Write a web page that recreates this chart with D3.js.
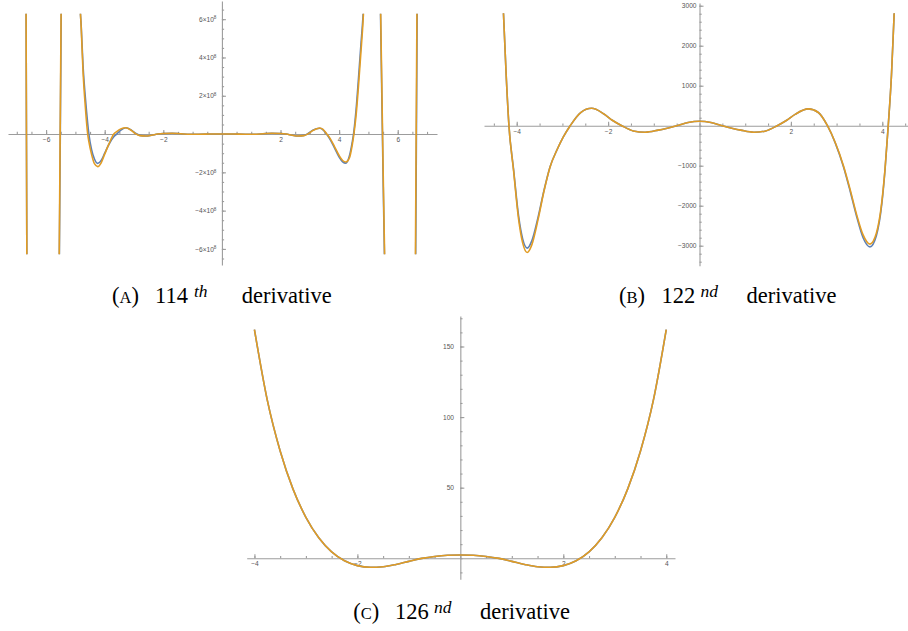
<html>
<head>
<meta charset="utf-8">
<script src="https://cdnjs.cloudflare.com/ajax/libs/d3/7.8.5/d3.min.js"></script>
<style>
    body { margin: 0; background: #fff; }
    svg { display: block; }
    .axis path, .axis line { stroke: #9c9c9c; stroke-width: 1.1px; }
    .axis text { fill: #555; font-family: 'Liberation Sans', Arial, sans-serif; font-size: 6.6px; }
    .cap { font-family: 'Liberation Serif', 'Times New Roman', serif; fill: #000; }
</style>
</head>
<body>
<script>
    // (A) 114th derivative, values in units of 10^8
    var aX = [-7.3, -6.9, -6.69, -6.65, -6.3, -5.9, -5.56, -5.47, -5.2, -4.9,
              -4.85, -4.8, -4.74, -4.66, -4.58, -4.54, -4.45, -4.35, -4.24, -4.12,
              -4.0, -3.85, -3.69, -3.59, -3.45, -3.28, -3.1, -2.95, -2.8, -2.6,
              -2.4, -2.2, -2.0, -1.7, -1.4, -1.1, -0.8, -0.4, 0, 0.4,
              0.8, 1.1, 1.4, 1.7, 2.0, 2.2, 2.4, 2.6, 2.8, 2.95,
              3.1, 3.34, 3.45, 3.57, 3.7, 3.85, 4.0, 4.12, 4.23, 4.35,
              4.45, 4.5, 4.58, 4.66, 4.74, 4.82, 4.9, 5.2, 5.4, 5.56,
              5.9, 6.3, 6.59, 6.67, 6.9, 7.3];
    var aBlue = [40, 30, 10, -10, -40, -40, -9, 9, 40, 12,
                 7.2, 5.6, 3.6, 1.9, 0.55, 0, -0.8, -1.3, -1.53, -1.38,
                 -1.0, -0.52, -0.14, 0, 0.2, 0.33, 0.22, 0.04, -0.07, -0.1,
                 -0.06, 0, 0.03, 0.04, 0.015, -0.01, -0.01, 0, 0.005, 0,
                 -0.01, -0.01, 0.015, 0.04, 0.03, 0, -0.06, -0.1, -0.07, 0.04,
                 0.2, 0.3, 0.22, 0, -0.3, -0.75, -1.2, -1.45, -1.52, -1.15,
                 -0.4, 0.1, 1.3, 2.9, 4.6, 6.3, 9, 40, 7.5, -7.5,
                 -40, -40, -12, 8, 30, 40];
    var aOrange = [40, 30, 10, -10, -40, -40, -8, 10, 40, 12,
                   7.3, 5.5, 3.3, 1.4, 0, -0.4, -1.05, -1.55, -1.7, -1.5,
                   -1.05, -0.5, 0, 0.13, 0.27, 0.33, 0.2, 0.02, -0.08, -0.1,
                   -0.06, 0, 0.03, 0.04, 0.015, -0.01, -0.01, 0, 0.005, 0,
                   -0.01, -0.01, 0.015, 0.04, 0.03, 0, -0.06, -0.1, -0.08, 0.02,
                   0.18, 0.32, 0.25, 0.02, -0.25, -0.68, -1.12, -1.38, -1.46, -1.25,
                   -0.55, -0.05, 1.0, 2.5, 4.2, 6.0, 8.8, 40, 8, -7,
                   -40, -40, -10, 10, 30, 40];
    var aTicksX = [-6, -4, -2, 2, 4, 6];
    var aTicksY = [-6, -4, -2, 2, 4, 6];

    // (B) 122nd derivative
    var bX = [-4.34, -4.29, -4.23, -4.17, -4.07, -3.96, -3.87, -3.77, -3.67, -3.53,
              -3.4, -3.27, -3.12, -2.98, -2.83, -2.6, -2.36, -2.1, -1.9, -1.7,
              -1.45, -1.19, -0.9, -0.5, -0.25, 0, 0.25, 0.5, 0.9, 1.19,
              1.45, 1.7, 1.9, 2.1, 2.38, 2.6, 2.8, 2.97, 3.15, 3.3,
              3.44, 3.58, 3.73, 3.87, 3.99, 4.06, 4.13, 4.2, 4.26, 4.32];
    var bBlue = [4300, 2810, 1250, 0, -1080, -2250, -2830, -3060, -2880, -2275,
                 -1600, -1025, -608, -280, 0, 330, 435, 300, 130, 0,
                 -130, -165, -110, 0, 80, 110, 80, 0, -110, -165,
                 -130, 0, 130, 290, 420, 330, 0, -430, -1025, -1650,
                 -2275, -2800, -3030, -2750, -1950, -1100, 0, 1250, 2810, 4300];
    var bOrange = [4300, 2810, 1250, 0, -1110, -2330, -2930, -3170, -2980, -2330,
                   -1620, -1030, -608, -280, 0, 330, 435, 300, 130, 0,
                   -130, -165, -110, 0, 80, 110, 80, 0, -110, -165,
                   -130, 0, 130, 290, 420, 330, 0, -420, -1000, -1610,
                   -2230, -2730, -2960, -2690, -1900, -1080, 0, 1250, 2810, 4300];
    var bTicksX = [-4, -2, 2, 4];
    var bTicksY = [-3000, -2000, -1000, 1000, 2000, 3000];

    // (C) 126th derivative
    var cX = [-4, -3.75, -3.5, -3.25, -3, -2.75, -2.5, -2.25, -2, -1.75, -1.5,
              -1.25, -1, -0.75, -0.5, -0.25, 0, 0.25, 0.5, 0.75, 1, 1.25,
              1.5, 1.75, 2, 2.25, 2.5, 2.75, 3, 3.25, 3.5, 3.75, 4];
    var cBlue = [162, 112, 76, 49, 29, 14.5, 4.5, -1.8, -5.2, -6.4, -6,
                 -4.4, -2.2, -0.1, 1.3, 2.1, 2.3, 2.1, 1.3, -0.1, -2.2, -4.4,
                 -6, -6.4, -5.2, -1.8, 4.5, 14.5, 29, 49, 76, 112, 162];
    var cOrange = [162, 112, 76, 49, 29, 14.5, 4.5, -1.8, -5.2, -6.4, -6,
                   -4.4, -2.2, -0.1, 1.3, 2.1, 2.3, 2.1, 1.3, -0.1, -2.2, -4.4,
                   -6, -6.4, -5.2, -1.8, 4.5, 14.5, 29, 49, 76, 112, 162];
    var cTicksX = [-4, -2, 2, 4];
    var cTicksY = [50, 100, 150];

    var capLetters = ['A', 'B', 'C'];
    var capNumbers = ['114', '122', '126'];
    var capSuffix = ['th', 'nd', 'nd'];

    var blue = '#5e81b5', orange = '#e19c24';
    var fmt = d3.format('d');

    var svg = d3.select('body').append('svg')
                               .attr('width', 908).attr('height', 631);

    var panels = [
        {id: 'a', xs: aX, series: [aBlue, aOrange], ticksX: aTicksX, ticksY: aTicksY,
         xDom: [-7.3, 7.34], xRange: [8, 437], yDom: [-6.84, 6.95], yRange: [265, 1],
         clip: [-6.28, 6.28], xMinor: d3.range(-7, 7.01, 0.5), yMinor: d3.range(-6.5, 6.6, 0.5),
         xPad: 3.4, yPad: 5.5, sci: true},
        {id: 'b', xs: bX, series: [bBlue, bOrange], ticksX: bTicksX, ticksY: bTicksY,
         xDom: [-4.716, 4.556], xRange: [484, 907.7], yDom: [-3500, 3068], yRange: [265.7, 3],
         clip: [-3500, 2810], xMinor: d3.range(-4.5, 4.51, 0.5), yMinor: d3.range(-3400, 3001, 200),
         xPad: 3.6, yPad: 3},
        {id: 'c', xs: cX, series: [cBlue, cOrange], ticksX: cTicksX, ticksY: cTicksY,
         xDom: [-4.15, 4.17], xRange: [246.7, 675], yDom: [-14.9, 171.6], yRange: [579.3, 316],
         clip: [-14.9, 171.6], xMinor: d3.range(-4, 4.01, 0.5), yMinor: d3.range(-10, 171, 10),
         xPad: 2.6, yPad: 6.3}
    ];

    panels.forEach(function (p) {
        var x = d3.scaleLinear().domain(p.xDom).range(p.xRange);
        var y = d3.scaleLinear().domain(p.yDom).range(p.yRange);
        var g = svg.append('g');

        // minor ticks
        g.append('g').attr('class', 'axis')
         .attr('transform', 'translate(0,' + y(0) + ')')
         .call(d3.axisBottom(x).tickValues(p.xMinor).tickSize(-2.2).tickSizeOuter(0).tickFormat(''))
         .select('.domain').remove();
        g.append('g').attr('class', 'axis')
         .attr('transform', 'translate(' + x(0) + ',0)')
         .call(d3.axisLeft(y).tickValues(p.yMinor).tickSize(-2.2).tickSizeOuter(0).tickFormat(''))
         .select('.domain').remove();

        // major ticks + axis lines
        g.append('g').attr('class', 'axis')
         .attr('transform', 'translate(0,' + y(0) + ')')
         .call(d3.axisBottom(x).tickValues(p.ticksX).tickSize(-4).tickSizeOuter(0)
                 .tickPadding(p.xPad).tickFormat(fmt));
        var ya = g.append('g').attr('class', 'axis')
         .attr('transform', 'translate(' + x(0) + ',0)')
         .call(d3.axisLeft(y).tickValues(p.ticksY).tickSize(-4).tickSizeOuter(0)
                 .tickPadding(p.yPad).tickFormat(fmt));
        g.selectAll('.axis').attr('font-size', null).attr('font-family', null);

        if (p.sci) {
            ya.selectAll('.tick text').each(function (d) {
                var t = d3.select(this);
                t.text('');
                t.append('tspan').text(fmt(d) + '\u00d710');
                t.append('tspan').attr('dy', '-0.5em').style('font-size', '4.6px').text('8');
            });
        }

        svg.append('clipPath').attr('id', 'clip-' + p.id)
           .append('rect')
           .attr('x', p.xRange[0]).attr('width', p.xRange[1] - p.xRange[0])
           .attr('y', y(p.clip[1])).attr('height', y(p.clip[0]) - y(p.clip[1]));

        var line = d3.line()
                     .x(function (d) { return x(d[0]); })
                     .y(function (d) { return y(d[1]); })
                     .curve(d3.curveMonotoneX);

        var lines = g.append('g').attr('clip-path', 'url(#clip-' + p.id + ')');
        [blue, orange].forEach(function (col, i) {
            lines.append('path')
                 .datum(d3.zip(p.xs, p.series[i]))
                 .attr('d', line)
                 .attr('fill', 'none')
                 .attr('stroke', col)
                 .attr('stroke-width', 1.6)
                 .attr('stroke-linejoin', 'round');
        });
    });

    // captions (x offsets of the pieces: open paren, number, superscript, word)
    var capPos = [
        {x: [112, 155, 194, 241.7], y: 303.3},
        {x: [619, 661.5, 700.5, 746.5], y: 303.3},
        {x: [353.3, 395, 434, 480], y: 619.3}
    ];
    capPos.forEach(function (c, i) {
        var t = svg.append('text').attr('class', 'cap').attr('y', c.y).style('font-size', '22.5px');
        t.append('tspan').attr('x', c.x[0]).text('(');
        t.append('tspan').style('font-size', '16.5px').text(capLetters[i]);
        t.append('tspan').text(')');
        t.append('tspan').attr('x', c.x[1]).text(capNumbers[i]);
        t.append('tspan').attr('x', c.x[2]).attr('y', c.y - 6)
         .style('font-size', '17.5px').style('font-style', 'italic').text(capSuffix[i]);
        t.append('tspan').attr('x', c.x[3]).attr('y', c.y).text('derivative');
    });
</script>
</body>
</html>
